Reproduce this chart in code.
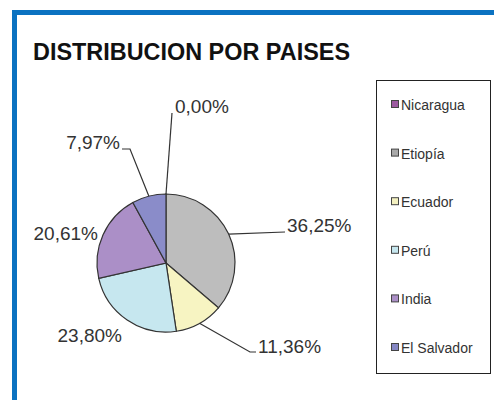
<!DOCTYPE html>
<html>
<head>
<meta charset="utf-8">
<script src="https://cdn.jsdelivr.net/npm/d3@7"></script>
<style>
  body { margin: 0; background: #fff; }
  text { font-family: 'Liberation Sans', Arial, sans-serif; }
</style>
</head>
<body>
<div id="chart"></div>
<script>
// data
const countries = ['Nicaragua', 'Etiopía', 'Ecuador', 'Perú', 'India', 'El Salvador']
const shares = [0.0, 36.25, 11.36, 23.8, 20.61, 7.97]
const labels = ['0,00%', '36,25%', '11,36%', '23,80%', '20,61%', '7,97%']

// size
const width = 494
const height = 400
const center = { x: 166, y: 263 }
const radius = 69

// style
const sliceColors = ['#9c5aa0', '#bdbdbd', '#f7f4c2', '#c6e7ef', '#ab8fc7', '#8a8cc9']
const swatchColors = ['#9c5aa0', '#a9a9a9', '#f3f0c0', '#c6e7ef', '#ab8fc7', '#8587c4']
const ink = '#333'

// label placement, relative to pie center: leader bends, text anchor point
const labelLayout = {
  Nicaragua: { path: [[6, -150]], text: [9, -150], anchor: 'start' },
  'Etiopía': { path: [[119, -31]], text: [121, -31], anchor: 'start' },
  Ecuador: { path: [[84, 89], [90, 89]], text: [92, 90], anchor: 'start' },
  'Perú': { path: [], text: [-44, 79], anchor: 'end' },
  India: { path: [], text: [-68, -23], anchor: 'end' },
  'El Salvador': { path: [[-36, -114], [-44, -114]], text: [-46, -114], anchor: 'end' },
}

const data = countries.map((name, i) => ({
  name,
  value: shares[i],
  label: labels[i],
  color: sliceColors[i],
  swatch: swatchColors[i],
}))

const svg = d3
  .select('#chart')
  .append('svg')
  .attr('width', width)
  .attr('height', height)

// blue frame (only top and left edges show)
svg
  .append('rect')
  .attr('x', 12)
  .attr('y', 10)
  .attr('width', width)
  .attr('height', 5)
  .attr('fill', '#0b72c1')
svg
  .append('rect')
  .attr('x', 12)
  .attr('y', 10)
  .attr('width', 5)
  .attr('height', height)
  .attr('fill', '#0b72c1')

// title
const title = svg
  .append('text')
  .attr('x', 33)
  .attr('y', 60)
  .attr('font-size', '23px')
  .attr('font-weight', 'bold')
  .attr('fill', '#111')
  .text('DISTRIBUCION POR PAISES')
title.attr('textLength', 317).attr('lengthAdjust', 'spacingAndGlyphs')

// pie
const pie = d3
  .pie()
  .sort(null)
  .value(d => d.value)
const arc = d3
  .arc()
  .innerRadius(0)
  .outerRadius(radius)

const plot = svg
  .append('g')
  .attr('transform', `translate(${center.x}, ${center.y})`)

const arcs = pie(data)

plot
  .selectAll('path.slice')
  .data(arcs)
  .join('path')
  .attr('class', 'slice')
  .attr('d', arc)
  .attr('fill', d => d.data.color)
  .attr('stroke', ink)
  .attr('stroke-width', 1.2)

// leader lines start on the rim at the slice mid angle
const rim = d => {
  const a = (d.startAngle + d.endAngle) / 2
  return [radius * Math.sin(a), -radius * Math.cos(a)]
}

plot
  .selectAll('polyline.leader')
  .data(arcs.filter(d => labelLayout[d.data.name].path.length))
  .join('polyline')
  .attr('class', 'leader')
  .attr('points', d => [rim(d), ...labelLayout[d.data.name].path].join(' '))
  .attr('fill', 'none')
  .attr('stroke', ink)
  .attr('stroke-width', 1.2)

plot
  .selectAll('text.label')
  .data(arcs)
  .join('text')
  .attr('class', 'label')
  .attr('x', d => labelLayout[d.data.name].text[0])
  .attr('y', d => labelLayout[d.data.name].text[1])
  .attr('text-anchor', d => labelLayout[d.data.name].anchor)
  .attr('font-size', '19px')
  .attr('fill', ink)
  .text(d => d.data.label)

// legend
const legend = svg.append('g').attr('transform', 'translate(376, 80)')

legend
  .append('rect')
  .attr('x', 0.5)
  .attr('y', 0.5)
  .attr('width', 114)
  .attr('height', 293)
  .attr('fill', '#fff')
  .attr('stroke', '#222')
  .attr('stroke-width', 1)

const ly = d3
  .scalePoint()
  .domain(countries)
  .range([25, 268])

const item = legend
  .selectAll('g.item')
  .data(data)
  .join('g')
  .attr('class', 'item')
  .attr('transform', d => `translate(0, ${ly(d.name)})`)

item
  .append('rect')
  .attr('x', 15.5)
  .attr('y', -4.5)
  .attr('width', 7)
  .attr('height', 7)
  .attr('fill', d => d.swatch)
  .attr('stroke', '#444')
  .attr('stroke-width', 1)

item
  .append('text')
  .attr('x', 25)
  .attr('y', 5)
  .attr('font-size', '14px')
  .attr('fill', ink)
  .text(d => d.name)
</script>
</body>
</html>
